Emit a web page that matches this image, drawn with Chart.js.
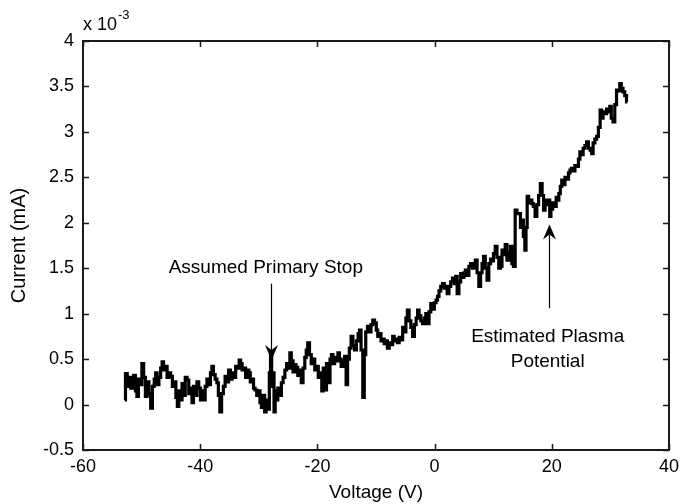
<!DOCTYPE html>
<html>
<head>
<meta charset="utf-8">
<script src="https://cdn.jsdelivr.net/npm/chart.js@4"></script>
<style>
  html,body{margin:0;padding:0;background:#fff;}
  #wrap{width:685px;height:504px;position:relative;}
</style>
</head>
<body>
<div id="wrap"><canvas id="c" width="685" height="504"></canvas></div>
<script>
// ---- data (current in units of 1e-3 mA) ----
const voltage = [
-52.9,-52.6,-52.3,-52.0,-51.7,-51.5,-51.2,-50.9,-50.7,-50.4,-50.1,-49.8,-49.5,-49.2,-48.9,-48.6,-48.3,-48.0,-47.7,-47.5,
-47.2,-46.9,-46.6,-46.4,-46.1,-45.8,-45.5,-45.2,-44.9,-44.6,-44.3,-44.0,-43.8,-43.5,-43.2,-43.0,-42.7,-42.4,-42.1,-41.8,
-41.5,-41.3,-41.0,-40.7,-40.4,-40.1,-39.8,-39.5,-39.3,-39.0,-38.7,-38.4,-38.1,-37.9,-37.6,-37.3,-37.0,-36.8,-36.5,-36.2,
-35.9,-35.6,-35.3,-35.0,-34.7,-34.4,-34.1,-33.8,-33.5,-33.2,-33.0,-32.7,-32.4,-32.1,-31.8,-31.6,-31.3,-31.0,-30.8,-30.5,
-30.2,-29.9,-29.7,-29.4,-29.1,-28.9,-28.6,-28.3,-28.1,-27.9,-27.7,-27.5,-27.3,-27.1,-26.9,-26.6,-26.3,-26.0,-25.7,-25.4,
-25.1,-24.8,-24.6,-24.3,-24.0,-23.8,-23.5,-23.2,-22.9,-22.6,-22.3,-22.0,-21.8,-21.5,-21.2,-20.9,-20.6,-20.3,-20.0,-19.7,
-19.4,-19.1,-18.9,-18.6,-18.3,-18.0,-17.7,-17.5,-17.2,-16.9,-16.6,-16.4,-16.1,-15.8,-15.5,-15.2,-15.0,-14.7,-14.4,-14.1,
-13.8,-13.5,-13.2,-12.9,-12.7,-12.4,-12.1,-11.9,-11.6,-11.3,-11.0,-10.7,-10.4,-10.1,-9.8,-9.6,-9.3,-9.0,-8.7,-8.5,
-8.2,-7.9,-7.6,-7.3,-7.0,-6.8,-6.5,-6.2,-5.9,-5.6,-5.3,-5.0,-4.8,-4.5,-4.2,-3.9,-3.6,-3.3,-3.0,-2.8,
-2.5,-2.2,-1.9,-1.6,-1.4,-1.1,-0.8,-0.5,-0.2,0.1,0.4,0.6,0.9,1.2,1.5,1.8,2.0,2.3,2.6,2.9,
3.2,3.5,3.7,4.0,4.3,4.6,4.9,5.1,5.4,5.7,6.0,6.3,6.6,6.8,7.1,7.4,7.7,8.0,8.2,8.5,
8.8,9.1,9.4,9.7,9.9,10.2,10.5,10.8,11.1,11.4,11.6,11.9,12.2,12.5,12.8,13.1,13.3,13.6,13.9,14.2,
14.5,14.8,15.0,15.3,15.5,15.7,15.9,16.2,16.5,16.7,17.0,17.3,17.6,17.9,18.2,18.5,18.7,19.0,19.3,19.6,
19.7,20.0,20.3,20.6,20.9,21.1,21.3,21.6,21.8,22.1,22.4,22.7,23.0,23.2,23.5,23.8,24.1,24.4,24.7,24.9,
25.2,25.5,25.8,26.1,26.4,26.7,26.9,27.2,27.5,27.8,28.1,28.4,28.6,28.9,29.2,29.5,29.8,30.0,30.3,30.6,
30.9,31.2,31.5,31.7,32.0,32.3,32.6,32.9
];
const currentE3 = [
0.05,0.34,0.20,0.30,0.18,0.27,0.32,0.15,0.09,0.28,0.22,0.45,0.30,0.09,0.25,0.12,-0.04,0.20,0.28,0.35,
0.22,0.30,0.40,0.47,0.38,0.42,0.30,0.35,0.31,0.20,0.25,0.08,-0.02,0.15,0.05,0.23,0.10,0.30,0.27,0.12,
0.18,0.02,0.20,0.10,0.25,0.18,0.05,0.15,0.05,0.20,0.28,0.22,0.35,0.42,0.33,0.28,0.24,0.10,-0.08,0.12,
0.20,0.31,0.25,0.38,0.28,0.35,0.30,0.42,0.40,0.49,0.45,0.38,0.40,0.30,0.38,0.35,0.25,0.28,0.18,0.16,
0.10,0.15,0.02,-0.03,0.10,-0.08,0.05,-0.05,0.35,0.57,0.20,0.35,-0.08,0.15,0.05,0.18,0.10,0.24,0.30,0.38,
0.45,0.40,0.57,0.48,0.36,0.44,0.41,0.32,0.38,0.24,0.40,0.52,0.60,0.68,0.55,0.45,0.50,0.38,0.42,0.30,
0.35,0.15,0.40,0.16,0.45,0.24,0.50,0.55,0.45,0.52,0.48,0.57,0.50,0.42,0.48,0.53,0.22,0.50,0.62,0.75,
0.65,0.60,0.70,0.78,0.82,0.60,0.08,0.55,0.80,0.86,0.80,0.88,0.93,0.90,0.82,0.75,0.78,0.70,0.72,0.67,
0.70,0.62,0.68,0.66,0.75,0.70,0.72,0.68,0.74,0.71,0.85,0.80,0.95,1.04,0.92,0.85,0.75,0.88,0.95,1.04,
0.98,0.92,0.89,0.95,1.00,0.89,1.02,1.11,1.05,1.12,1.15,1.19,1.25,1.30,1.33,1.28,1.30,1.22,1.30,1.35,
1.39,1.33,1.41,1.22,1.35,1.44,1.40,1.45,1.48,1.42,1.52,1.55,1.50,1.53,1.59,1.45,1.30,1.45,1.55,1.63,
1.50,1.37,1.55,1.60,1.58,1.66,1.74,1.62,1.50,1.52,1.70,1.65,1.76,1.59,1.68,1.74,1.55,1.52,2.14,2.10,
2.10,1.95,2.03,1.85,1.70,1.95,2.29,2.22,2.25,2.21,2.18,2.07,2.20,2.30,2.43,2.30,2.14,2.20,2.25,2.25,
2.07,2.15,2.22,2.18,2.28,2.25,2.32,2.40,2.47,2.42,2.50,2.48,2.55,2.58,2.60,2.57,2.63,2.62,2.70,2.78,
2.75,2.82,2.85,2.89,2.82,2.80,2.76,2.88,2.92,2.95,3.05,3.24,3.15,3.22,3.20,3.25,3.22,3.28,3.15,3.11,
3.30,3.46,3.45,3.53,3.48,3.44,3.40,3.33
];
const xTicks = [-60, -40, -20, 0, 20, 40];
const yTicks = [-0.5, 0, 0.5, 1, 1.5, 2, 2.5, 3, 3.5, 4];
const exponentLabel = ['x 10', '-3'];

// annotations: text lines and arrows, in data coordinates
const notes = [
  { lines: ['Assumed Primary Stop'], x: -28.8, y: [1.5], arrowX: -27.9, from: 1.33, to: 0.49 },
  { lines: ['Estimated Plasma', 'Potential'], x: 19.3, y: [0.75, 0.47], arrowX: 19.5, from: 1.06, to: 1.98 }
];

const FONT = "'Liberation Sans', Arial, sans-serif";

const points = voltage.map((v, i) => ({ x: v, y: currentE3[i] }));

function fmt(v) { return String(+Number(v).toFixed(2)); }

const decor = {
  id: 'decor',
  afterDraw(chart) {
    const { ctx, chartArea: { left, right, top, bottom }, scales: { x, y } } = chart;
    ctx.save();
    // box
    ctx.strokeStyle = '#1a1a1a';
    ctx.lineWidth = 2;
    ctx.strokeRect(left, top, right - left, bottom - top);
    // inward ticks
    ctx.lineWidth = 1.5;
    ctx.beginPath();
    xTicks.forEach(t => {
      const px = Math.round(x.getPixelForValue(t)) + 0.5;
      ctx.moveTo(px, bottom); ctx.lineTo(px, bottom - 6);
      ctx.moveTo(px, top); ctx.lineTo(px, top + 6);
    });
    yTicks.forEach(t => {
      const py = Math.round(y.getPixelForValue(t)) + 0.5;
      ctx.moveTo(left, py); ctx.lineTo(left + 6, py);
      ctx.moveTo(right, py); ctx.lineTo(right - 6, py);
    });
    ctx.stroke();

    // exponent label
    ctx.fillStyle = '#000';
    ctx.textBaseline = 'alphabetic';
    ctx.textAlign = 'left';
    ctx.font = '18px ' + FONT;
    const ex = left;
    const ey = top - 11;
    ctx.fillText(exponentLabel[0], ex, ey);
    const w = ctx.measureText(exponentLabel[0]).width;
    ctx.font = '13px ' + FONT;
    ctx.fillText(exponentLabel[1], ex + w + 1, ey - 11);

    // annotations
    ctx.font = '19px ' + FONT;
    ctx.textAlign = 'center';
    ctx.textBaseline = 'middle';
    ctx.strokeStyle = '#000';
    ctx.fillStyle = '#000';
    notes.forEach(n => {
      const tx = x.getPixelForValue(n.x);
      n.lines.forEach((ln, i) => ctx.fillText(ln, tx, y.getPixelForValue(n.y[i])));
      const ax = Math.round(x.getPixelForValue(n.arrowX)) + 0.5;
      const y0 = y.getPixelForValue(n.from);
      const y1 = y.getPixelForValue(n.to);
      const dir = Math.sign(y1 - y0);
      const L = 15, W = 6.5, notch = 5;
      ctx.lineWidth = 1.2;
      ctx.beginPath();
      ctx.moveTo(ax, y0);
      ctx.lineTo(ax, y1 - dir * (L - notch));
      ctx.stroke();
      ctx.beginPath();
      ctx.moveTo(ax, y1);
      ctx.lineTo(ax - W, y1 - dir * L);
      ctx.lineTo(ax, y1 - dir * (L - notch));
      ctx.lineTo(ax + W, y1 - dir * L);
      ctx.closePath();
      ctx.fill();
    });
    ctx.restore();
  }
};

new Chart(document.getElementById('c'), {
  type: 'line',
  data: {
    datasets: [{
      data: points,
      borderColor: '#000',
      borderWidth: 3.2,
      pointRadius: 0,
      stepped: 'middle',
      tension: 0,
      fill: false
    }]
  },
  options: {
    responsive: false,
    animation: false,
    devicePixelRatio: 1,
    layout: { padding: { top: 41, right: 13, left: 0, bottom: 0 } },
    plugins: { legend: { display: false }, tooltip: { enabled: false } },
    scales: {
      x: {
        type: 'linear', min: -60, max: 40,
        afterBuildTicks: s => { s.ticks = xTicks.map(v => ({ value: v })); },
        afterFit: s => { s.height = 54; },
        grid: { display: false, drawTicks: false },
        border: { display: false },
        ticks: { color: '#000', font: { family: FONT, size: 18 }, padding: 6, maxRotation: 0, autoSkip: false, callback: v => fmt(v) },
        title: { display: true, text: 'Voltage (V)', color: '#000', font: { family: FONT, size: 19 }, padding: { top: 0, bottom: 0 } }
      },
      y: {
        type: 'linear', min: -0.5, max: 4,
        afterBuildTicks: s => { s.ticks = yTicks.map(v => ({ value: v })); },
        afterFit: s => { s.width = 83; },
        grid: { display: false, drawTicks: false },
        border: { display: false },
        ticks: { color: '#000', font: { family: FONT, size: 18 }, padding: 9, autoSkip: false, callback: v => fmt(v) },
        title: { display: true, text: 'Current (mA)', color: '#000', font: { family: FONT, size: 20 }, padding: { top: 7, bottom: 0 } }
      }
    }
  },
  plugins: [decor]
});
</script>
</body>
</html>
